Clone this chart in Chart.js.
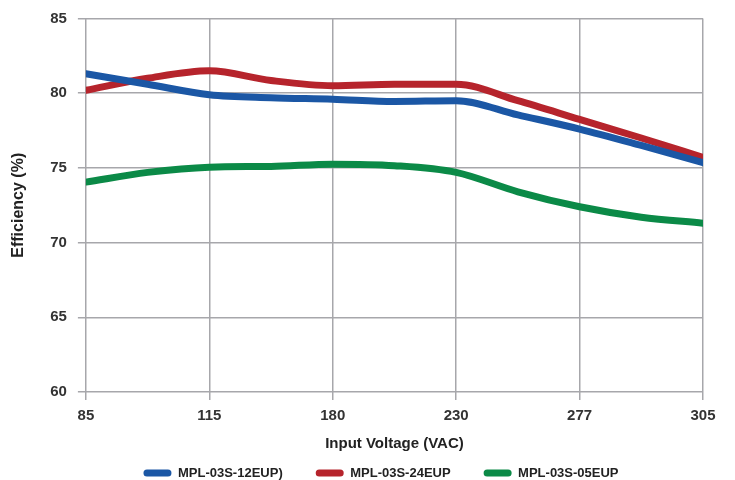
<!DOCTYPE html>
<html lang="en">
<head>
    <meta charset="UTF-8">
    <title>Efficiency vs Input Voltage</title>
    <script src="https://cdn.jsdelivr.net/npm/chart.js"></script>
    <style>
        html, body { margin: 0; padding: 0; background: #fff; }
        #wrap { width: 735px; height: 480px; }
    </style>
</head>
<body>
    <div id="wrap">
        <canvas id="myChart"></canvas>
    </div>
    <script>
        // data
        const categories = ['85', '115', '180', '230', '277', '305'];
        const xPos = [0, 0.5, 1, 1.5, 2, 2.5, 3, 3.5, 4, 4.5, 5];
        const seriesNames = ['MPL-03S-12EUP)', 'MPL-03S-24EUP', 'MPL-03S-05EUP'];
        const eff12 = [81.3, 80.6, 79.9, 79.7, 79.6, 79.45, 79.5, 78.55, 77.6, 76.5, 75.35];
        const eff24 = [80.2, 81.0, 81.5, 80.85, 80.5, 80.6, 80.6, 79.5, 78.25, 77.0, 75.7];
        const eff05 = [74.05, 74.7, 75.05, 75.1, 75.25, 75.15, 74.7, 73.4, 72.4, 71.7, 71.3];
        const colors = ['#1b57a5', '#b6242c', '#0b8a47'];

        const toPoints = (vals) => xPos.map((x, i) => ({ x: x, y: vals[i] }));
        const allSeries = [eff12, eff24, eff05];

        const ctx = document.getElementById('myChart').getContext('2d');
        const gridColor = '#a7a7ab';

        // legend: keep the wide gap between items but pull it closer to the axis title
        const legendNudge = {
            id: 'legendNudge',
            beforeInit(chart) {
                const fit = chart.legend.fit;
                chart.legend.fit = function () {
                    fit.call(this);
                    this.height -= 32;
                };
                const draw = chart.legend.draw;
                chart.legend.draw = function () {
                    const saved = [this.top, this.bottom, this.left, this.right];
                    this.top = 473 - 6.5 - this.options.labels.padding;
                    this.bottom = chart.height;
                    this.left += 25;
                    this.right += 25;
                    draw.call(this);
                    [this.top, this.bottom, this.left, this.right] = saved;
                };
            }
        };

        const myChart = new Chart(ctx, {
            type: 'line',
            data: {
                datasets: allSeries.map((vals, i) => ({
                    label: seriesNames[i],
                    data: toPoints(vals),
                    borderColor: colors[i],
                    backgroundColor: colors[i],
                    borderWidth: 7,
                    borderCapStyle: 'round',
                    pointRadius: 0,
                    cubicInterpolationMode: 'monotone'
                }))
            },
            options: {
                responsive: true,
                maintainAspectRatio: false,
                animation: false,
                layout: { padding: { top: 5, right: 32, left: 9, bottom: 2 } },
                plugins: {
                    tooltip: { enabled: false },
                    legend: {
                        display: true,
                        position: 'bottom',
                        labels: {
                            boxWidth: 28,
                            boxHeight: 7,
                            useBorderRadius: true,
                            borderRadius: 3.5,
                            padding: 33,
                            color: '#222',
                            font: { family: 'Liberation Sans', size: 13, weight: 'bold' },
                            // plain filled pills, no thick outline
                            generateLabels: (chart) =>
                                Chart.defaults.plugins.legend.labels.generateLabels(chart)
                                    .map((item) => ({ ...item, lineWidth: 0 }))
                        }
                    }
                },
                scales: {
                    x: {
                        type: 'linear',
                        min: 0,
                        max: 5,
                        ticks: {
                            stepSize: 1,
                            color: '#333',
                            padding: 7,
                            font: { family: 'Liberation Sans', size: 15, weight: 'bold' },
                            callback: (v) => categories[v]
                        },
                        grid: { color: gridColor, lineWidth: 1.5, tickLength: 8 },
                        border: { display: false },
                        title: {
                            display: true,
                            text: 'Input Voltage (VAC)',
                            color: '#222',
                            padding: { top: 3, bottom: 1 },
                            font: { family: 'Liberation Sans', size: 15, weight: 'bold' }
                        }
                    },
                    y: {
                        min: 60,
                        max: 85,
                        ticks: {
                            stepSize: 5,
                            color: '#333',
                            padding: 11,
                            font: { family: 'Liberation Sans', size: 15, weight: 'bold', lineHeight: 1 }
                        },
                        grid: { color: gridColor, lineWidth: 1.5, tickLength: 8 },
                        border: { display: false },
                        title: {
                            display: true,
                            text: 'Efficiency (%)',
                            color: '#222',
                            padding: { top: 0, bottom: 11 },
                            font: { family: 'Liberation Sans', size: 16, weight: 'bold' }
                        }
                    }
                }
            },
            plugins: [legendNudge]
        });
    </script>
</body>
</html>
